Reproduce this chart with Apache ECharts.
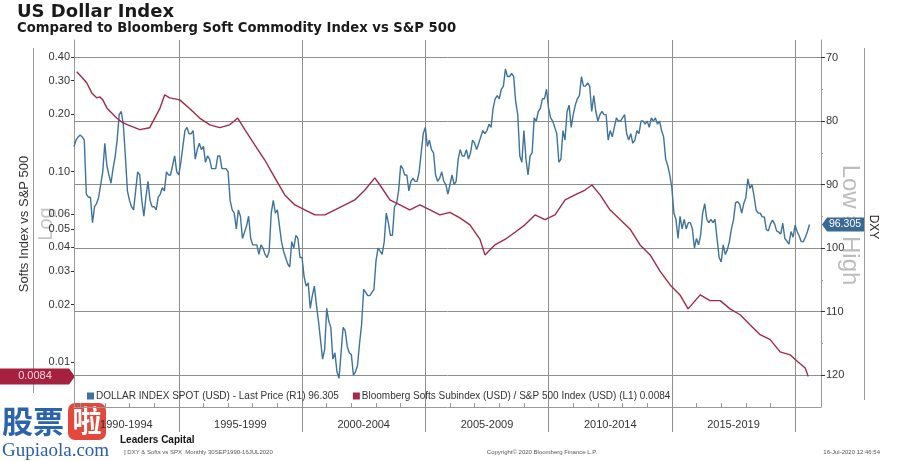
<!DOCTYPE html>
<html><head><meta charset="utf-8">
<script src="https://cdn.jsdelivr.net/npm/echarts@6/dist/echarts.min.js"></script>
<style>html,body{margin:0;padding:0;background:#fff}#c{width:910px;height:461px}</style>
</head><body><div id="c"></div>
<script>
// ---------------- DATA ----------------
const dxyStartYear = 1990;
const dxyStartMonth = 9; // monthly observations from Sep 1990
const dxyValues = [
  84.0, 83.0, 82.5, 82.2,
  82.5, 83.0, 91.5, 92.0, 92.0, 96.0, 93.5, 93.0, 92.0, 90.0, 88.0, 83.5,
  87.0, 88.5, 89.8, 87.5, 85.7, 83.0, 79.0, 78.5, 80.5, 85.5, 91.0, 92.5,
  93.5, 94.0, 91.0, 88.0, 88.5, 92.5, 95.0, 92.0, 89.5, 92.5, 93.5, 93.5,
  94.0, 92.0, 91.5, 90.5, 91.0, 88.0, 88.5, 88.5, 87.0, 85.5, 88.0, 88.5,
  86.5, 84.0, 81.5, 81.0, 82.0, 82.0, 81.5, 86.0, 84.5, 83.5, 84.5, 84.0,
  86.5, 85.5, 86.0, 87.5, 87.5, 87.5, 85.5, 85.5, 87.5, 87.5, 87.5, 88.0,
  92.5, 94.0, 94.5, 97.0, 94.0, 95.0, 98.5, 97.5, 96.5, 95.0, 98.5, 99.5,
  99.5, 99.5, 101.0, 99.5, 100.0, 101.0, 101.5, 100.5, 94.5, 92.5, 94.5, 94.0,
  96.5, 99.0, 100.5, 101.5, 102.5, 103.0, 99.0, 100.0, 98.0, 98.5, 101.5, 101.5,
  104.5, 106.0, 105.5, 109.5, 107.5, 106.0, 109.0, 111.5, 114.5, 117.5, 116.0, 109.5,
  111.5, 112.5, 117.5, 116.5, 119.5, 120.5, 116.5, 112.5, 113.0, 115.5, 116.5, 116.8,
  120.0, 119.5, 118.5, 115.0, 112.0, 106.5, 107.0, 107.5, 107.5, 107.0, 106.5, 102.0,
  100.0, 100.5, 101.0, 99.0, 94.5, 96.0, 98.0, 98.0, 93.5, 93.0, 91.0, 87.0,
  87.5, 88.5, 88.5, 91.0, 89.5, 89.0, 89.5, 89.5, 88.0, 85.0, 82.0, 81.0,
  84.0, 83.0, 84.5, 85.0, 88.5, 89.5, 89.0, 88.0, 89.5, 90.0, 91.5, 90.0,
  88.5, 90.0, 89.5, 86.0, 84.5, 85.5, 85.5, 84.5, 86.0, 85.0, 83.0, 83.5,
  84.5, 83.5, 82.5, 81.5, 82.0, 81.5, 80.5, 81.0, 78.0, 76.5, 76.0, 76.5,
  75.0, 74.5, 71.8, 73.0, 73.0, 72.5, 73.0, 77.0, 79.0, 85.5, 86.5, 81.5,
  86.0, 88.5, 85.5, 85.0, 79.5, 80.0, 78.5, 78.0, 76.5, 76.5, 75.0, 78.0,
  79.5, 80.0, 81.0, 82.0, 86.5, 86.0, 81.5, 83.0, 78.5, 77.5, 81.0, 79.0,
  77.5, 76.5, 76.0, 73.0, 74.5, 74.5, 74.0, 74.5, 78.5, 76.0, 78.5, 80.0,
  79.0, 78.5, 79.0, 79.0, 83.0, 81.5, 82.5, 81.0, 79.5, 80.0, 80.0, 79.5,
  79.0, 82.0, 83.0, 82.0, 83.5, 83.0, 81.5, 82.0, 80.0, 80.0, 80.5, 80.0,
  81.0, 79.5, 80.0, 79.5, 80.5, 80.0, 81.5, 82.5, 86.0, 87.0, 88.5, 90.5,
  94.5, 95.5, 98.5, 95.0, 97.0, 95.5, 97.0, 96.0, 96.0, 97.0, 100.0, 98.5,
  99.5, 98.0, 94.5, 93.0, 95.5, 96.0, 95.5, 96.0, 95.5, 98.5, 101.5, 102.2,
  99.5, 101.0, 100.3, 99.0, 97.0, 95.6, 92.9, 92.7, 93.1, 94.5, 93.0, 92.1,
  89.1, 90.6, 90.0, 91.8, 94.0, 94.5, 94.5, 95.1, 95.1, 97.1, 97.3, 96.2,
  95.6, 96.2, 97.3, 97.5, 97.8, 96.1, 98.5, 98.9, 99.4, 97.4, 98.3, 96.4,
  97.4, 98.1, 99.0, 99.0, 98.3, 97.4, 96.305
];
const softsYears = [
  1990.86, 1991.06, 1991.27, 1991.47, 1991.67, 1991.79, 1991.92, 1992.08, 1992.28, 1992.48,
  1992.69, 1992.93, 1993.42, 1993.82, 1994.23, 1994.43, 1994.63, 1995.04, 1995.45, 1995.85,
  1996.26, 1996.66, 1997.07, 1997.39, 1997.68, 1998.08, 1998.49, 1998.90, 1999.30, 1999.71,
  2000.11, 2000.52, 2000.93, 2001.33, 2001.74, 2002.14, 2002.55, 2002.95, 2003.16, 2003.56,
  2003.97, 2004.37, 2004.78, 2005.19, 2005.59, 2006.00, 2006.40, 2006.81, 2007.22, 2007.42,
  2007.82, 2008.23, 2008.64, 2009.04, 2009.45, 2009.85, 2010.26, 2010.67, 2011.07, 2011.48,
  2011.76, 2012.09, 2012.49, 2012.90, 2013.30, 2013.71, 2014.12, 2014.52, 2014.93, 2015.33,
  2015.66, 2016.15, 2016.55, 2016.96, 2017.36, 2017.77, 2018.17, 2018.58, 2018.99, 2019.39,
  2019.80, 2020.12, 2020.41, 2020.53
];
const softsValues = [
  0.334, 0.314, 0.292, 0.259, 0.244, 0.247, 0.238, 0.216, 0.203, 0.191,
  0.182, 0.176, 0.166, 0.170, 0.214, 0.253, 0.244, 0.238, 0.214, 0.191,
  0.176, 0.170, 0.176, 0.191, 0.166, 0.138, 0.115, 0.0926, 0.0754, 0.0668,
  0.063, 0.0592, 0.0592, 0.063, 0.0668, 0.071, 0.080, 0.0926, 0.085, 0.071,
  0.0668, 0.063, 0.0668, 0.063, 0.0592, 0.061, 0.0571, 0.0525, 0.044, 0.0365,
  0.0412, 0.044, 0.048, 0.0525, 0.0592, 0.056, 0.0592, 0.071, 0.0754, 0.080,
  0.085, 0.0754, 0.063, 0.056, 0.050, 0.0412, 0.0365, 0.030, 0.0254, 0.0225,
  0.019, 0.0225, 0.021, 0.021, 0.019, 0.0177, 0.0157, 0.0139, 0.0131, 0.0113,
  0.0109, 0.0100, 0.0093, 0.0084
];
const periodStarts = [1990, 1995, 2000, 2005, 2010, 2015];
const periodLabels = ['1990-1994', '1995-1999', '2000-2004', '2005-2009', '2010-2014', '2015-2019'];
const gridYears = [1995, 2000, 2005, 2010, 2015, 2020];
const leftTicks = [0.40, 0.30, 0.20, 0.10, 0.06, 0.05, 0.04, 0.03, 0.02, 0.01];
const rightTicks = [70, 80, 90, 100, 110, 120];
const rightMinorTicks = [75, 85, 95, 105, 115];

// ---------------- BUILD ----------------
const blueColor = '#3d739c', redColor = '#a3294a', gridColor = '#8e8e8e';
const xMin = 1990.75, xMax = 2021.05;
const leftMin = 0.0058, leftMax = 0.491;
const rightMin = 67.24, rightMax = 125.04;
const blueData = dxyValues.map((v, i) => [dxyStartYear + (dxyStartMonth + i) / 12, v]);
const redData = softsValues.map((v, i) => [softsYears[i], v]);
const dxyLast = dxyValues[dxyValues.length - 1];
const softsLast = softsValues[softsValues.length - 1];
const blueName = 'DOLLAR INDEX SPOT (USD) - Last Price (R1) ' + dxyLast.toFixed(3);
const redName = 'Bloomberg Softs Subindex (USD) / S&P 500 Index (USD) (L1) ' + softsLast.toFixed(4);
const yearTicks = [];
for (let y = 1991; y <= 2020; y++) yearTicks.push(y);
const periodMid = periodStarts.map(s => (Math.max(s, xMin) + s + 5) / 2);
const labelFont = 'Liberation Sans';

const chart = echarts.init(document.getElementById('c'), null, {renderer: 'canvas'});
const option = {
  animation: false,
  backgroundColor: '#ffffff',
  grid: [
    {left: 74, right: 89, top: 40, bottom: 54},
    {left: 74, right: 89, top: 40, bottom: 54}
  ],
  legend: {
    left: 82, top: 386, itemWidth: 7, itemHeight: 7, itemGap: 14, icon: 'rect',
    textStyle: {fontSize: 10, fontFamily: labelFont, color: '#333', padding: [0, 0, 0, -3]},
    data: [blueName, redName], selectedMode: false
  },
  xAxis: [
    {
      type: 'value', gridIndex: 0, min: xMin, max: xMax,
      axisLine: {show: true, lineStyle: {color: '#999'}},
      axisTick: {show: true, inside: true, length: 4, customValues: yearTicks, lineStyle: {color: '#999'}},
      axisLabel: {
        customValues: periodMid, margin: 12, color: '#333', fontSize: 11, fontFamily: labelFont,
        formatter: v => { const i = periodMid.findIndex(m => Math.abs(m - v) < 1e-6); return i >= 0 ? periodLabels[i] : ''; }
      },
      splitLine: {show: false}
    },
    {
      type: 'value', gridIndex: 1, min: xMin, max: xMax, position: 'bottom',
      axisLine: {show: false},
      axisTick: {show: true, inside: false, length: 25, customValues: gridYears, lineStyle: {color: gridColor}},
      axisLabel: {show: false}, splitLine: {show: false}
    }
  ],
  yAxis: [
    {
      type: 'log', logBase: 10, gridIndex: 0, min: leftMin, max: leftMax, position: 'left',
      axisLine: {show: true, lineStyle: {color: '#999'}}, axisTick: {show: false},
      axisLabel: {show: false}, splitLine: {show: false}
    },
    {
      type: 'value', gridIndex: 0, inverse: true, min: rightMin, max: rightMax, position: 'right',
      axisLine: {show: true, lineStyle: {color: '#999'}},
      axisTick: {show: true, length: 4, customValues: rightTicks, lineStyle: {color: '#333'}},
      axisLabel: {customValues: rightTicks, margin: 5, color: '#333', fontSize: 11, fontFamily: labelFont},
      splitLine: {show: false}
    },
    {
      type: 'value', gridIndex: 1, min: Math.log10(leftMin), max: Math.log10(leftMax), position: 'left',
      axisLine: {show: false},
      axisTick: {show: true, length: 3, customValues: leftTicks.map(v => Math.log10(v)), lineStyle: {color: '#333'}},
      axisLabel: {customValues: leftTicks.map(v => Math.log10(v)), margin: 4, color: '#333', fontSize: 11, fontFamily: labelFont,
        formatter: v => Math.pow(10, v).toFixed(2)},
      splitLine: {show: false}
    },
    {
      type: 'value', gridIndex: 1, inverse: true, min: rightMin, max: rightMax, position: 'right',
      axisLine: {show: false},
      axisTick: {show: true, length: 2, customValues: rightMinorTicks, lineStyle: {color: '#999'}},
      axisLabel: {show: false}, splitLine: {show: false}
    }
  ],
  series: [
    {
      name: blueName, type: 'line', xAxisIndex: 0, yAxisIndex: 1, data: blueData,
      symbol: 'none', showSymbol: false, z: 3,
      lineStyle: {color: blueColor, width: 1.4}, itemStyle: {color: blueColor},
      markLine: {
        silent: true, symbol: ['none', 'none'], z: 1, animation: false,
        label: {show: false}, lineStyle: {color: gridColor, type: 'solid', width: 1},
        emphasis: {disabled: true},
        data: rightTicks.map(v => ({yAxis: v})).concat(gridYears.map(y => ({xAxis: y})))
      }
    },
    {
      name: redName, type: 'line', xAxisIndex: 0, yAxisIndex: 0, data: redData,
      symbol: 'none', showSymbol: false, z: 3,
      lineStyle: {color: redColor, width: 1.4}, itemStyle: {color: redColor}
    }
  ]
};
chart.setOption(option);

const pyBlue = chart.convertToPixel({yAxisIndex: 1}, dxyLast);
const pyRed = chart.convertToPixel({yAxisIndex: 0}, softsLast);
const axR = chart.convertToPixel({xAxisIndex: 0}, xMax);
const axL = chart.convertToPixel({xAxisIndex: 0}, xMin);

const txt = (x, y, text, font, fill, extra) => Object.assign({
  type: 'text', x: x, y: y, silent: true,
  style: Object.assign({text: text, font: font, fill: fill, align: 'left', verticalAlign: 'middle'}, (extra && extra.style) || {})
}, extra ? {rotation: extra.rotation || 0} : {});

const graphics = [
  txt(17, 12, 'US Dollar Index', 'bold 18px "DejaVu Sans"', '#1a1a1a'),
  txt(17, 29, 'Compared to Bloomberg Soft Commodity Index vs S&P 500', 'bold 13.2px "DejaVu Sans"', '#1a1a1a'),
  txt(24, 224, 'Softs Index vs S&P 500', '13px "Liberation Sans"', '#333', {rotation: Math.PI / 2, style: {align: 'center'}}),
  txt(46, 224, 'Log', '20px "Liberation Sans"', '#c4c4c4', {rotation: Math.PI / 2, style: {align: 'center'}}),
  txt(850, 225, 'Low = High', '24px "Liberation Sans"', '#bdbdbd', {rotation: -Math.PI / 2, style: {align: 'center'}}),
  {type: 'line', silent: true, shape: {x1: 33.5, y1: 48, x2: 33.5, y2: 393}, style: {stroke: '#999', lineWidth: 1}},
  {type: 'line', silent: true, shape: {x1: 864.5, y1: 48, x2: 864.5, y2: 400}, style: {stroke: '#999', lineWidth: 1}},
  txt(873, 227, 'DXY', '12px "Liberation Sans"', '#222', {rotation: -Math.PI / 2, style: {align: 'center'}}),
  // last value tags
  {type: 'polygon', silent: true, shape: {points: [[axR + 1, pyBlue], [axR + 6, pyBlue - 7], [864, pyBlue - 7], [864, pyBlue + 7], [axR + 6, pyBlue + 7]]}, style: {fill: '#3a6a93'}},
  txt(845, pyBlue, dxyLast.toFixed(3), '10.5px "Liberation Sans"', '#ffffff', {style: {align: 'center'}}),
  {type: 'polygon', silent: true, shape: {points: [[0, pyRed - 8], [axL - 5, pyRed - 8], [axL + 1, pyRed], [axL - 5, pyRed + 8], [0, pyRed + 8]]}, style: {fill: '#a5213f'}},
  txt(35, pyRed, softsLast.toFixed(4), '11px "Liberation Sans"', '#f7d5dc', {style: {align: 'center'}}),
  // footer
  txt(120, 440, 'Leaders Capital', 'bold 10px "Liberation Sans"', '#111'),
  txt(124, 452, '] DXY & Softs vs SPX  Monthly 30SEP1990-16JUL2020', '6px "Liberation Sans"', '#555'),
  txt(542, 452, 'Copyright\u00a9 2020 Bloomberg Finance L.P.', '6px "Liberation Sans"', '#555', {style: {align: 'center'}}),
  txt(880, 452, '16-Jul-2020 12:46:54', '6px "Liberation Sans"', '#555', {style: {align: 'right'}}),
  // watermark
  txt(2, 421, '股票', 'bold 31px "Noto Sans CJK SC"', '#2b63ad'),
  {type: 'rect', silent: true, shape: {x: 68, y: 403, width: 38, height: 37, r: 7}, style: {fill: '#e2483b'}},
  txt(87, 421, '啦', 'bold 29px "Noto Sans CJK SC"', '#ffffff', {style: {align: 'center'}}),
  txt(2, 451, 'Gupiaola.com', '19px "Liberation Serif"', '#2b5ea8')
];
chart.setOption({graphic: graphics});
</script>
</body></html>
